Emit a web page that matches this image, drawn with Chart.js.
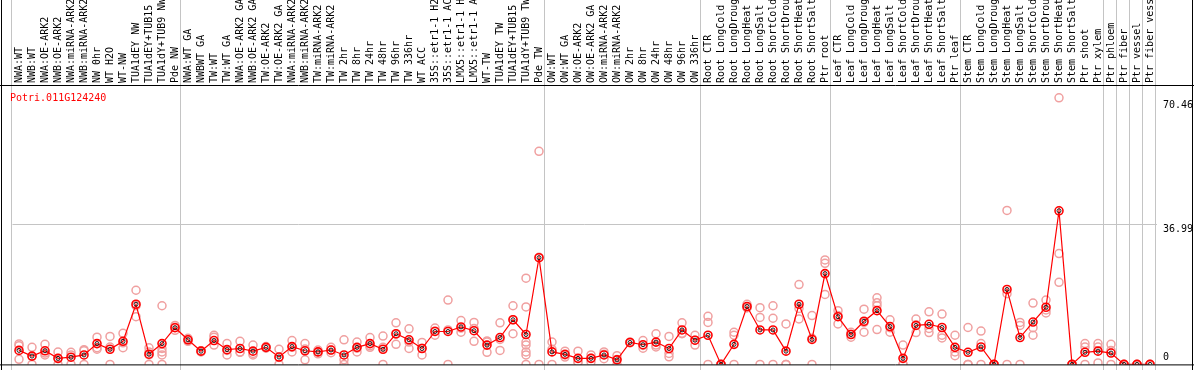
<!DOCTYPE html>
<html><head><meta charset="utf-8">
<script src="https://cdn.jsdelivr.net/npm/chart.js@4"></script>
<style>html,body{margin:0;padding:0;background:#fff;overflow:hidden}#wrap{width:1194px;height:370px;position:relative}</style>
</head><body><div id="wrap"><canvas id="c"></canvas></div>
<script>
const geneId = "Potri.011G124240";
const categories = [
 "NWA:WT","NWB:WT","NWA:OE-ARK2","NWB:OE-ARK2","NWA:miRNA-ARK2","NWB:miRNA-ARK2","NW 0hr","WT H2O","WT-NW","TUA1dEY NW","TUA1dEY+TUB15 ","TUA1dY+TUB9 NW","Pde NW",
 "NWA:WT GA","NWBWT GA","TW:WT","TW:WT GA","NWA:OE-ARK2 GA","NWB:OE-ARK2 GA","TW:OE-ARK2","TW:OE-ARK2 GA","NWA:miRNA-ARK2","NWB:miRNA-ARK2","TW:miRNA-ARK2","TW:miRNA-ARK2",
 "TW 2hr","TW 8hr","TW 24hr","TW 48hr","TW 96hr","TW 336hr","WT ACC","35S::etr1-1 H2","35S::etr1-1 AC","LMX5::etr1-1 H","LMX5::etr1-1 A","WT-TW","TUA1dEY TW","TUA1dEY+TUB15 ","TUA1dY+TUB9 TW","Pde TW",
 "OW:WT","OW:WT GA","OW:OE-ARK2","OW:OE-ARK2 GA","OW:miRNA-ARK2","OW:miRNA-ARK2","OW 2hr","OW 8hr","OW 24hr","OW 48hr","OW 96hr","OW 336hr",
 "Root CTR","Root LongCold","Root LongDroug","Root LongHeat","Root LongSalt","Root ShortCold","Root ShortDrou","Root ShortHeat","Root ShortSalt","Ptr root",
 "Leaf CTR","Leaf LongCold","Leaf LongDroug","Leaf LongHeat","Leaf LongSalt","Leaf ShortCold","Leaf ShortDrou","Leaf ShortHeat","Leaf ShortSalt","Ptr leaf",
 "Stem CTR","Stem LongCold","Stem LongDroug","Stem LongHeat","Stem LongSalt","Stem ShortCold","Stem ShortDrou","Stem ShortHeat","Stem ShortSalt","Ptr shoot","Ptr xylem",
 "Ptr phloem","Ptr fiber","Ptr vessel","Ptr fiber vess"
];
const meanValues = [
 3.7,2.2,3.6,1.6,1.9,2.5,5.5,4.0,6.1,15.9,2.7,5.5,9.7,
 6.5,3.5,6.3,3.9,4.2,3.5,4.5,1.95,4.7,3.6,3.3,3.8,
 2.5,4.5,5.5,4.0,8.1,6.5,4.2,8.7,8.7,9.9,8.9,5.1,7.1,11.8,7.9,28.2,
 3.3,2.65,1.6,1.6,2.5,1.2,5.8,5.2,5.9,4.2,9.1,6.4,
 7.7,0,5.3,15.3,9.1,9.1,3.5,15.9,6.6,24.0,
 12.6,7.9,11.4,14.2,10.0,1.6,10.3,10.6,9.75,4.5,
 3.2,4.6,0,19.8,7.1,11.2,15.1,40.6,0,3.2,3.5,
 3.0,0,0,0
];
const replicateValues = [
 [5.4,4.9,1.35],[4.5,0,2.1],[5.3,2.5,3.0],[3.25,0,1.55],[3.2,0,2.5],[3.6,0,3.9],[7.2,4.4,4.0],[7.4,0,4.6],[8.2,4.4,5.7],[19.6,12.6,15.5],[4.4,3.3,2.5,0],[15.5,4.2,3.3,2.5,0],[10.3,9.8,9.0],
 [6.9,6.5,6.1],[3.6,3.3,3.6],[7.7,7.2,5.1],[5.5,2.5,3.7],[6.1,3.3,3.2],[5.1,2.5,2.9],[4.7,4.5,4.3],[4.0,0,1.85],[6.3,3.3,4.5],[5.5,1.2,4.1],[3.8,3.3,2.8],[4.5,3.1,3.8],
 [6.5,1.2,0],[5.9,3.3,4.3],[7.1,4.9,4.5],[7.5,0,4.5],[11.0,5.3,8.0],[9.4,4.2,5.9],[5.8,2.5,4.3],[9.6,7.7,8.8],[17.0,0,9.1],[11.6,8.5,9.6],[11.1,6.1,9.5],[5.9,3.2,6.2],[11.0,3.7,6.6],[15.5,8.1,11.8],[22.8,15.2,5.9,5.1,3.3,2.5,0],[56.3,0,28.3],
 [5.9,0,4.0],[3.5,2.5,1.95],[3.5,0.65,0.65],[2.5,1.6,0.7],[3.3,2.7,1.5],[2.3,0,1.3],[5.9,5.8,5.7],[6.3,4.3,5.0],[8.1,5.1,4.6],[7.4,2.9,2.0],[11.0,8.1,8.2],[7.7,5.1,6.4],
 [12.7,11.1,0],[0,0,0],[8.5,7.7,0],[15.9,15.0,15.0],[15.0,12.4,0],[15.5,12.2,0],[10.7,0,0],[21.1,14.8,12.0],[12.9,0,6.9],[27.6,26.7,18.5],
 [14.2,10.7,12.9],[8.5,7.2,8.0],[14.6,8.5,11.1],[17.6,16.3,15.5,9.2],[11.8,8.5,9.7],[5.1,0,0],[12.0,8.4,10.5],[13.9,8.4,9.5],[13.3,7.7,7.0],[7.7,3.3,2.3],
 [9.75,0,0],[8.8,5.5,0],[0,0,0],[40.7,0,18.7],[11.1,10.3,0],[16.2,7.7,9.7],[17.0,14.4,13.6],[70.46,29.3,21.7],[0,0,0],[5.5,4.6,0],[5.5,4.6,0.4],
 [5.3,0,3.7],[0,0,0],[0,0,0],[0,0,0]
];
const yTickValues = [0, 36.99, 70.46];
const yTickLabels = ["0", "36.99", "70.46"];
const groupEnds = [-1, 12, 40, 52, 62, 72, 83, 84, 85, 86, 87];

const FONT = '"DejaVu Sans Mono", monospace';
const meanPoints = meanValues.map((v, i) => ({x: i, y: v}));
const repPoints = [];
replicateValues.forEach((arr, i) => arr.forEach(v => repPoints.push({x: i, y: v})));

const framePlugin = {
  id: 'frame',
  beforeDatasetsDraw(chart) {
    const {ctx, chartArea, scales: {x}} = chart;
    ctx.save();
    ctx.strokeStyle = '#c4c4c4';
    ctx.lineWidth = 1;
    groupEnds.forEach(i => {
      const px = Math.round(x.getPixelForValue(i + 0.5)) - 1.5;
      ctx.beginPath(); ctx.moveTo(px, 0); ctx.lineTo(px, chart.height); ctx.stroke();
    });
    // category labels, rotated, reading upward from the plot frame
    ctx.fillStyle = '#000';
    ctx.font = '10px ' + FONT;
    ctx.textAlign = 'left';
    ctx.textBaseline = 'middle';
    categories.forEach((lab, i) => {
      const px = x.getPixelForValue(i);
      ctx.save();
      ctx.translate(px, chartArea.top - 2);
      ctx.rotate(-Math.PI / 2);
      ctx.fillText(lab, 0, 0);
      ctx.restore();
    });
    ctx.restore();
  },
  afterDraw(chart) {
    const {ctx, chartArea, scales: {y}} = chart;
    const W = chart.width, H = chart.height;
    ctx.save();
    ctx.strokeStyle = '#000';
    ctx.lineWidth = 1;
    ctx.beginPath();
    ctx.moveTo(0, chartArea.top + 0.5); ctx.lineTo(W, chartArea.top + 0.5);
    ctx.moveTo(0, chartArea.bottom + 0.5); ctx.lineTo(W, chartArea.bottom + 0.5);
    ctx.moveTo(1.5, 0); ctx.lineTo(1.5, H);
    ctx.moveTo(W - 1.5, 0); ctx.lineTo(W - 1.5, H);
    ctx.stroke();
    ctx.fillStyle = '#ff0000';
    ctx.font = '10px ' + FONT;
    ctx.textAlign = 'left';
    ctx.textBaseline = 'middle';
    ctx.fillText(geneId, 10, chartArea.top + 13);
    ctx.fillStyle = '#000';
    const offs = [-7, 5, 8];
    yTickValues.forEach((v, k) => {
      ctx.fillText(yTickLabels[k], 1163, y.getPixelForValue(v) + offs[k]);
    });
    ctx.restore();
  }
};

new Chart(document.getElementById('c'), {
  type: 'line',
  data: { datasets: [
    {data: meanPoints, borderColor: '#ff0000', borderWidth: 1.2, tension: 0,
     pointRadius: 4, pointBorderWidth: 1.6, pointBorderColor: '#ff0000', pointBackgroundColor: 'rgba(0,0,0,0)', order: 2},
    {data: meanPoints, showLine: false, pointRadius: 2, pointBorderWidth: 1,
     pointBorderColor: '#202020', pointBackgroundColor: 'rgba(0,0,0,0)', order: 1},
    {data: repPoints, showLine: false, pointRadius: 4, pointBorderWidth: 1.5,
     pointBorderColor: '#f0a0a0', pointBackgroundColor: 'rgba(0,0,0,0)', order: 3}
  ]},
  options: {
    responsive: true, maintainAspectRatio: false, animation: false, events: [],
    layout: {padding: {left: 12.5, right: 0, top: 0, bottom: 1}},
    plugins: {legend: {display: false}, tooltip: {enabled: false}},
    scales: {
      x: {type: 'linear', position: 'top', min: -0.5, max: 87.5,
        afterBuildTicks: s => { s.ticks = categories.map((_, i) => ({value: i})); },
        afterFit: s => { s.height = 85; },
        grid: {display: false}, border: {display: false},
        ticks: {display: false}},
      y: {type: 'linear', position: 'right', min: 0, max: 73.84,
        afterBuildTicks: s => { s.ticks = yTickValues.map(v => ({value: v})); },
        afterFit: s => { s.width = 37.5; },
        grid: {drawTicks: false, color: c => (c.tick && c.tick.value === 36.99) ? '#c4c4c4' : 'rgba(0,0,0,0)'},
        border: {display: false}, ticks: {display: false}}
    }
  },
  plugins: [framePlugin]
});
</script></body></html>
